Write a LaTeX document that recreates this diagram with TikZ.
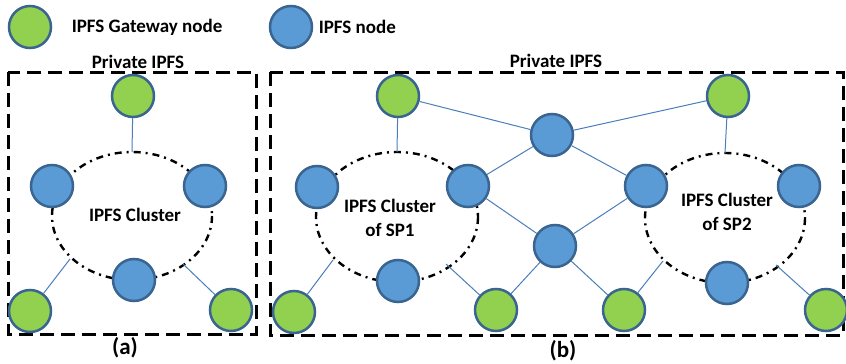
\documentclass[tikz,border=0pt]{standalone}
\usepackage{fontspec}
\setmainfont{Carlito}
\usetikzlibrary{positioning}

\definecolor{gwgreen}{HTML}{92D050}
\definecolor{nodeblue}{HTML}{5B9BD5}
\definecolor{rimblue}{HTML}{3A6591}
\definecolor{linkblue}{HTML}{4A7EBB}

\tikzset{
	gw/.style={circle, draw=rimblue, line width=2.5pt, fill=gwgreen, minimum size=42pt, inner sep=0pt},
	ipfs/.style={gw, fill=nodeblue},
	link/.style={linkblue, line width=1pt},
	border/.style={line width=3pt, dash pattern=on 14pt off 7pt},
	cluster/.style={line width=2.4pt, dash pattern=on 7pt off 5pt on 2pt off 5pt},
	lbl/.style={font=\bfseries\fontsize{19}{24}\selectfont, align=center},
	sub/.style={font=\bfseries\fontsize{23}{26}\selectfont}
}

\begin{document}
\begin{tikzpicture}[x=1pt,y=-1pt]
			\useasboundingbox (0,0) rectangle (846,364);

			% legend
			\node[gw] (leggw) at (30,27) {};
			\node[lbl, right=16pt of leggw] (leggwtxt) {IPFS Gateway node};
			\node[ipfs] (legnode) at (291,27) {};
			\node[lbl, right=2pt of legnode] (legnodetxt) {IPFS node};

			% dashed frames
			\draw [border] (8,72) rectangle (256,334);
			\draw [border] (270,72) rectangle (843,335);
			\node[lbl] (priva) at (138,62) {Private IPFS};
			\node[lbl] (privb) at (556,61) {Private IPFS};

			% cluster rings
			\draw [cluster] (132,216) ellipse [x radius=80, y radius=64];
			\draw [cluster] (397,217) ellipse [x radius=81, y radius=65];
			\draw [cluster] (725,218) ellipse [x radius=80, y radius=65];
			\node[lbl] (clua) at (135,215) {IPFS Cluster};
			\node[lbl] (clu1) at (390,218) {IPFS Cluster\\of SP1};
			\node[lbl] (clu2) at (727,212) {IPFS Cluster\\of SP2};

			% tie points on the rings
			\coordinate (ta) at (132,152);
			\coordinate (ka1) at (70,259);
			\coordinate (ka2) at (183,264);
			\coordinate (tb1) at (397,152);
			\coordinate (kb1) at (333,260);
			\coordinate (kb2) at (446,264);
			\coordinate (tb2) at (725,153);
			\coordinate (kb3) at (663,261);
			\coordinate (kb4) at (776,265);

			% nodes of (a)
			\node[gw] (ga1) at (133,96) {};
			\node[ipfs] (ca1) at (52,186) {};
			\node[ipfs] (ca2) at (205,186) {};
			\node[ipfs] (ca3) at (134,280) {};
			\node[gw] (ga2) at (30,311) {};
			\node[gw] (ga3) at (231,310) {};

			% nodes of (b), SP1
			\node[gw] (gb1) at (398,96) {};
			\node[ipfs] (cb1) at (317,187) {};
			\node[ipfs] (cb2) at (468,186) {};
			\node[ipfs] (cb3) at (398,281) {};
			\node[gw] (gb2) at (294,312) {};
			\node[gw] (gb3) at (496,310) {};

			% hubs in the middle
			\node[ipfs] (hb1) at (552,135) {};
			\node[ipfs] (hb2) at (555,246) {};

			% nodes of (b), SP2
			\node[gw] (gb4) at (728,96) {};
			\node[ipfs] (cb4) at (646,186) {};
			\node[ipfs] (cb5) at (799,186) {};
			\node[ipfs] (cb6) at (727,283) {};
			\node[gw] (gb5) at (624,310) {};
			\node[gw] (gb6) at (826,310) {};

			% links of (a)
			\draw [link] (ga1) -- (ta);
			\draw [link] (ga2) -- (ka1);
			\draw [link] (ga3) -- (ka2);

			% links of (b)
			\draw [link] (gb1) -- (tb1);
			\draw [link] (gb2) -- (kb1);
			\draw [link] (gb3) -- (kb2);
			\draw [link] (gb4) -- (tb2);
			\draw [link] (gb5) -- (kb3);
			\draw [link] (gb6) -- (kb4);
			\draw [link] (gb1) -- (hb1);
			\draw [link] (gb4) -- (hb1);
			\draw [link] (hb1) -- (cb2);
			\draw [link] (hb1) -- (cb4);
			\draw [link] (cb2) -- (hb2);
			\draw [link] (cb4) -- (hb2);
			\draw [link] (hb2) -- (gb3);
			\draw [link] (hb2) -- (gb5);

			% captions
			\node[sub] (capa) at (125,348) {(a)};
			\node[sub] (capb) at (563,351) {(b)};
\end{tikzpicture}
\end{document}
